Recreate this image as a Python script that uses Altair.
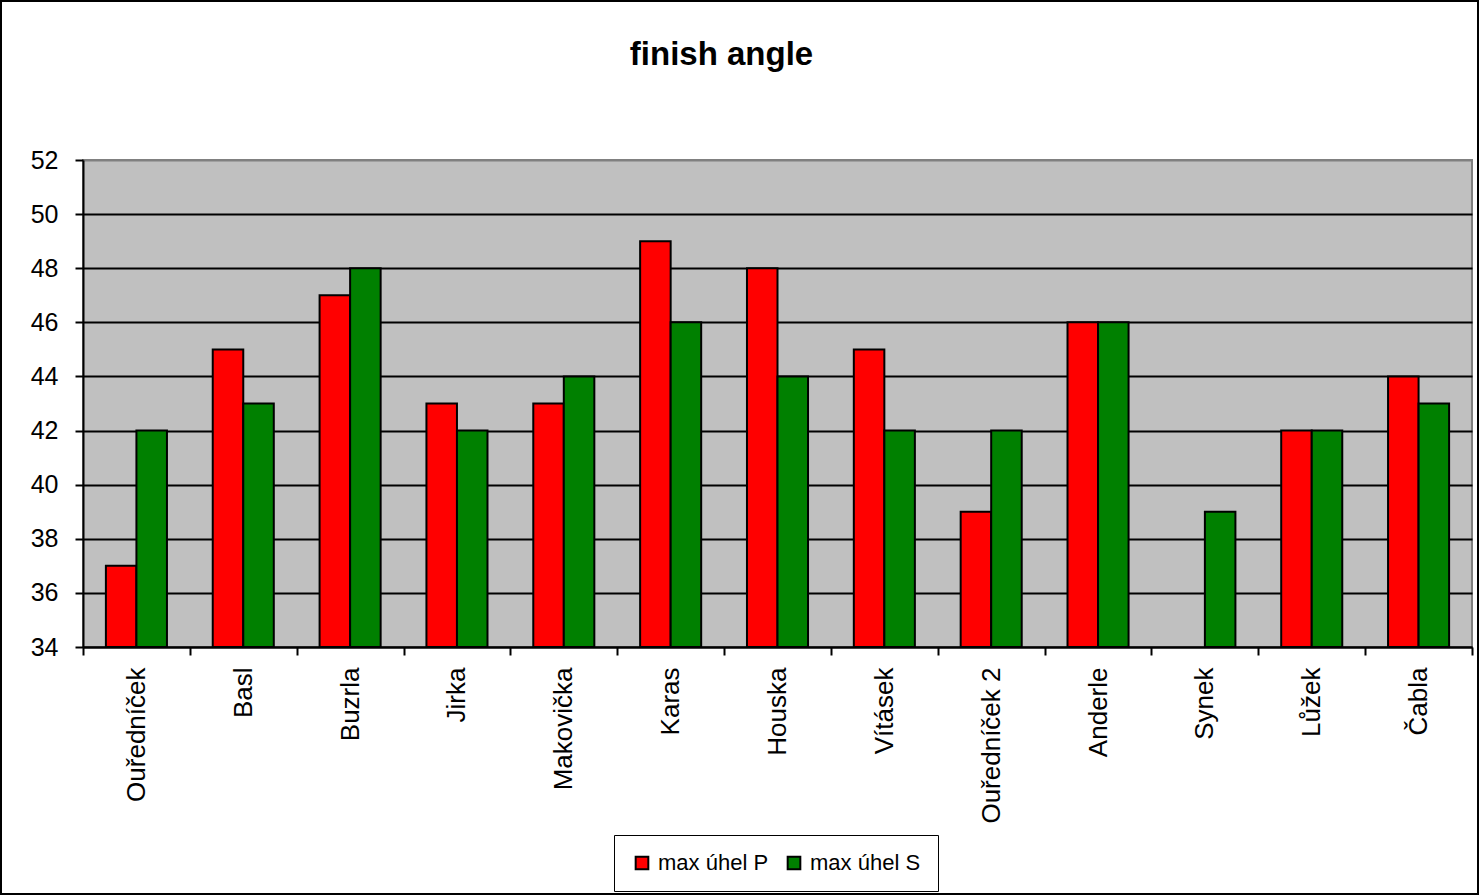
import altair as alt
import pandas as pd

title_text = "finish angle"
names = ["Ouředníček", "Basl", "Buzrla", "Jirka", "Makovička", "Karas", "Houska",
         "Vításek", "Ouředníček 2", "Anderle", "Synek", "Lůžek", "Čabla"]
series = ["max úhel P", "max úhel S"]
values_p = [37, 45, 47, 43, 43, 49, 48, 45, 39, 46, None, 42, 44]
values_s = [42, 43, 48, 42, 44, 46, 44, 42, 42, 46, 39, 42, 43]
colors = ["#FF0000", "#008000"]
y_ticks = [34, 36, 38, 40, 42, 44, 46, 48, 50, 52]

rows = []
for n, p, s in zip(names, values_p, values_s):
    rows.append({"name": n, "series": series[0], "value": p})
    rows.append({"name": n, "series": series[1], "value": s})
df = pd.DataFrame(rows)

FONT = "Liberation Sans"
W, H = 1389, 487
L, T = 83, 160

bars = alt.Chart(df).mark_bar(stroke="black", strokeWidth=2).encode(
    x=alt.X("name:N", sort=names, title=None,
            scale=alt.Scale(paddingInner=0, paddingOuter=0),
            axis=alt.Axis(labelAngle=270, tickBand="extent", tickSize=8, tickWidth=2,
                          tickColor="black", domainColor="black", domainWidth=2,
                          labelFontSize=26, labelFont=FONT, labelColor="black",
                          labelPadding=12, grid=False, labelLimit=300)),
    xOffset=alt.XOffset("series:N", sort=series,
                        scale=alt.Scale(paddingInner=0, paddingOuter=0.75)),
    y=alt.Y("value:Q", title=None,
            scale=alt.Scale(domain=[34, 52], zero=False, nice=False),
            axis=alt.Axis(values=y_ticks, tickSize=8, tickWidth=2, tickColor="black",
                          domainColor="black", domainWidth=2, grid=True,
                          gridColor={"condition": {"test": "datum.value >= 52",
                                                   "value": "#808080"},
                                     "value": "black"},
                          gridWidth=2, gridOpacity=1,
                          labelFontSize=25, labelFont=FONT, labelColor="black",
                          labelPadding=17)),
    y2=alt.datum(34),
    color=alt.Color("series:N", sort=series, title=None,
                    scale=alt.Scale(domain=series, range=colors),
                    legend=alt.Legend(orient="none", legendX=531, legendY=675,
                                      direction="horizontal", strokeColor="black",
                                      padding=17, symbolType="square", symbolSize=160,
                                      symbolStrokeColor="black", symbolStrokeWidth=2,
                                      labelFontSize=22, labelFont=FONT, labelColor="black",
                                      labelOffset=5, columnPadding=14, fillColor="white")),
)

title_df = pd.DataFrame({"t": [title_text]})
title = alt.Chart(title_df).mark_text(
    font=FONT, fontSize=33, fontWeight="bold", align="center", baseline="alphabetic",
    color="black"
).encode(text="t:N", x=alt.value(721.5 - L), y=alt.value(65 - T))

border = alt.Chart(title_df).mark_rect(fill=None, stroke="black", strokeWidth=2,
                                       clip=False).encode(
    x=alt.value(1 - L), x2=alt.value(1478 - L), y=alt.value(1 - T), y2=alt.value(894 - T))

chart = alt.layer(bars, title, border).properties(
    width=W, height=H,
    padding={"left": L, "top": T, "right": 1479 - L - W, "bottom": 895 - T - H},
    autosize=alt.AutoSizeParams(type="none"),
    background="white",
).configure_view(fill="#C0C0C0", stroke="#808080", strokeWidth=2)

chart.save("out.html", embed_options={"renderer": "svg", "actions": False})
